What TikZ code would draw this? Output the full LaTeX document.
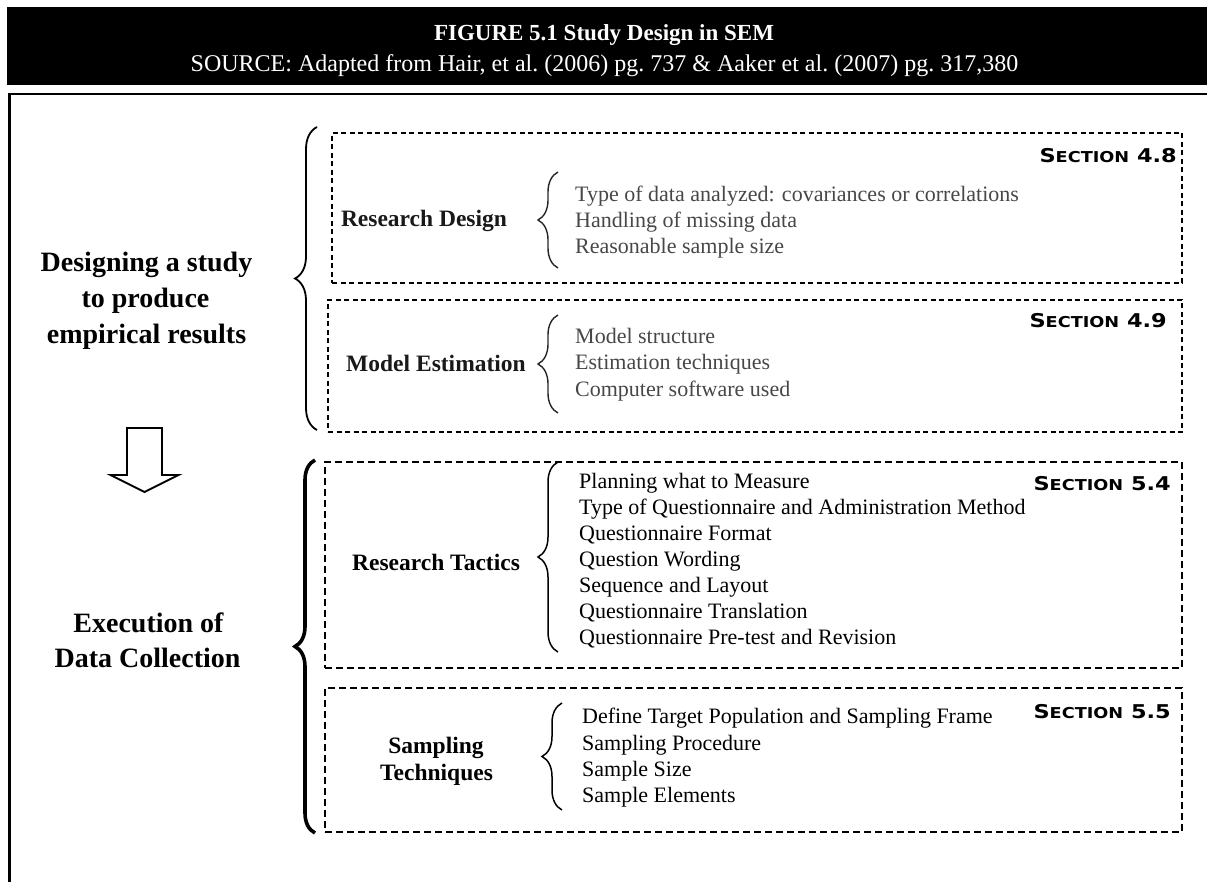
\documentclass[tikz,border=0pt]{standalone}
\usepackage{fontspec}
\setmainfont{Liberation Serif}
\newfontfamily\secfont{DejaVu Sans}[FakeStretch=1.18]
\usetikzlibrary{decorations.pathreplacing}

% small-caps style section tag
\newcommand\sectag[1]{{\secfont\bfseries\fontsize{19}{19}\selectfont S\fontsize{15}{15}\selectfont ECTION\fontsize{19}{19}\selectfont\ #1}}

\tikzset{
  txt/.style={inner sep=0pt, anchor=base},
  headline/.style={txt, text=white, font=\bfseries\fontsize{23}{23}\selectfont},
  subline/.style={txt, text=white, font=\fontsize{24}{24}\selectfont},
  bigtext/.style={txt, font=\bfseries\fontsize{28}{28}\selectfont},
  boxlabel/.style={txt, font=\bfseries\fontsize{23.5}{23.5}\selectfont},
  item/.style={txt, anchor=base west, font=\fontsize{22}{22}\selectfont},
  lightitem/.style={item, text=black!72},
  tag/.style={txt, anchor=base east},
  upbox/.style={draw, dash pattern=on 5pt off 3.5pt, line width=1.4pt, inner sep=0pt},
  lowbox/.style={draw, dash pattern=on 7pt off 4pt, line width=2pt, inner sep=0pt},
  bigbrace/.style={decorate, decoration={brace, amplitude=#1}},
  smallbrace/.style={decorate, decoration={brace, amplitude=20pt}},
}

\begin{document}
\begin{tikzpicture}[x=1pt, y=-1pt]
\useasboundingbox (0,0) rectangle (1207,882);

% heading bar
\node[fill=black, inner sep=0pt, minimum width=1200pt, minimum height=78pt, anchor=north west] (bar) at (7,7) {};
\node[headline] (title) at (604,41) {FIGURE 5.1 Study Design in SEM};
\node[subline] (source) at (604.5,72) {SOURCE: Adapted from Hair, et al.\ (2006) pg.\ 737 \& Aaker et al.\ (2007) pg.\ 317,380};

% outer frame (top and left edges)
\draw[line width=2pt] (1207,94) -- (8,94);
\draw[line width=3pt] (9.5,93) -- (9.5,882);

% left-hand stage labels
\node[bigtext] (des1) at (146.5,272) {Designing a study};
\node[bigtext] (des2) at (145.5,308) {to produce};
\node[bigtext] (des3) at (146.5,344) {empirical results};
\node[bigtext] (exe1) at (148.5,632) {Execution of};
\node[bigtext] (exe2) at (147.5,667) {Data Collection};

% hollow block arrow between the stages
\coordinate (arrowtop) at (144.5,428);
\draw[line width=1.8pt, line join=miter, shift={(arrowtop)}]
  (-17.5,0) -- (17.5,0) -- (17.5,47) -- (34,47) -- (0,64) -- (-34,47) -- (-17.5,47) -- cycle;

% dashed boxes
\node[upbox, minimum width=850pt, minimum height=150pt] (rdbox) at (757,208) {};
\node[upbox, minimum width=854pt, minimum height=132pt] (mebox) at (755,366) {};
\node[lowbox, minimum width=857pt, minimum height=206pt] (rtbox) at (753.5,565) {};
\node[lowbox, minimum width=857pt, minimum height=144pt] (stbox) at (753.5,760) {};

% large braces grouping the boxes
\coordinate (ub1) at (317,430); \coordinate (ub2) at (317,127);
\coordinate (lb1) at (315,833); \coordinate (lb2) at (315,460);
\draw[bigbrace=22pt, line width=1.8pt] (ub1) -- (ub2);
\draw[bigbrace=20pt, line width=3.6pt] (lb1) -- (lb2);

% Research Design
\node[boxlabel, text=black!90] (rdlab) at (424,227) {Research Design};
\coordinate (rdb1) at (558,268); \coordinate (rdb2) at (558,172);
\draw[smallbrace, line width=1.4pt, black!85] (rdb1) -- (rdb2);
\node[lightitem] (rd1) at (575,202) {Type of data analyzed: covariances or correlations};
\node[lightitem] (rd2) at (575,228) {Handling of missing data};
\node[lightitem] (rd3) at (575,254) {Reasonable sample size};
\node[tag] (rdtag) at (1177,163) {\sectag{4.8}};

% Model Estimation
\node[boxlabel, text=black!90] (melab) at (436,371) {Model Estimation};
\coordinate (meb1) at (558,413); \coordinate (meb2) at (558,315);
\draw[smallbrace, line width=1.4pt, black!85] (meb1) -- (meb2);
\node[lightitem] (me1) at (575,344) {Model structure};
\node[lightitem] (me2) at (575,370) {Estimation techniques};
\node[lightitem] (me3) at (575,396) {Computer software used};
\node[tag] (metag) at (1167,328) {\sectag{4.9}};

% Research Tactics
\node[boxlabel] (rtlab) at (436,570) {Research Tactics};
\coordinate (rtb1) at (558,652); \coordinate (rtb2) at (558,462);
\draw[smallbrace, line width=1.5pt] (rtb1) -- (rtb2);
\node[item] (rt1) at (579,488) {Planning what to Measure};
\node[item] (rt2) at (579,514) {Type of Questionnaire and Administration Method};
\node[item] (rt3) at (579,540) {Questionnaire Format};
\node[item] (rt4) at (579,566) {Question Wording};
\node[item] (rt5) at (579,592) {Sequence and Layout};
\node[item] (rt6) at (579,618) {Questionnaire Translation};
\node[item] (rt7) at (579,644) {Questionnaire Pre-test and Revision};
\node[tag] (rttag) at (1171,490) {\sectag{5.4}};

% Sampling Techniques
\node[boxlabel] (stlab1) at (436,753) {Sampling};
\node[boxlabel] (stlab2) at (436.5,780) {Techniques};
\coordinate (stb1) at (562,810); \coordinate (stb2) at (562,703);
\draw[smallbrace, line width=1.5pt] (stb1) -- (stb2);
\node[item] (st1) at (582,723) {Define Target Population and Sampling Frame};
\node[item] (st2) at (582,750) {Sampling Procedure};
\node[item] (st3) at (582,776) {Sample Size};
\node[item] (st4) at (582,802) {Sample Elements};
\node[tag] (sttag) at (1171,718) {\sectag{5.5}};
\end{tikzpicture}
\end{document}
